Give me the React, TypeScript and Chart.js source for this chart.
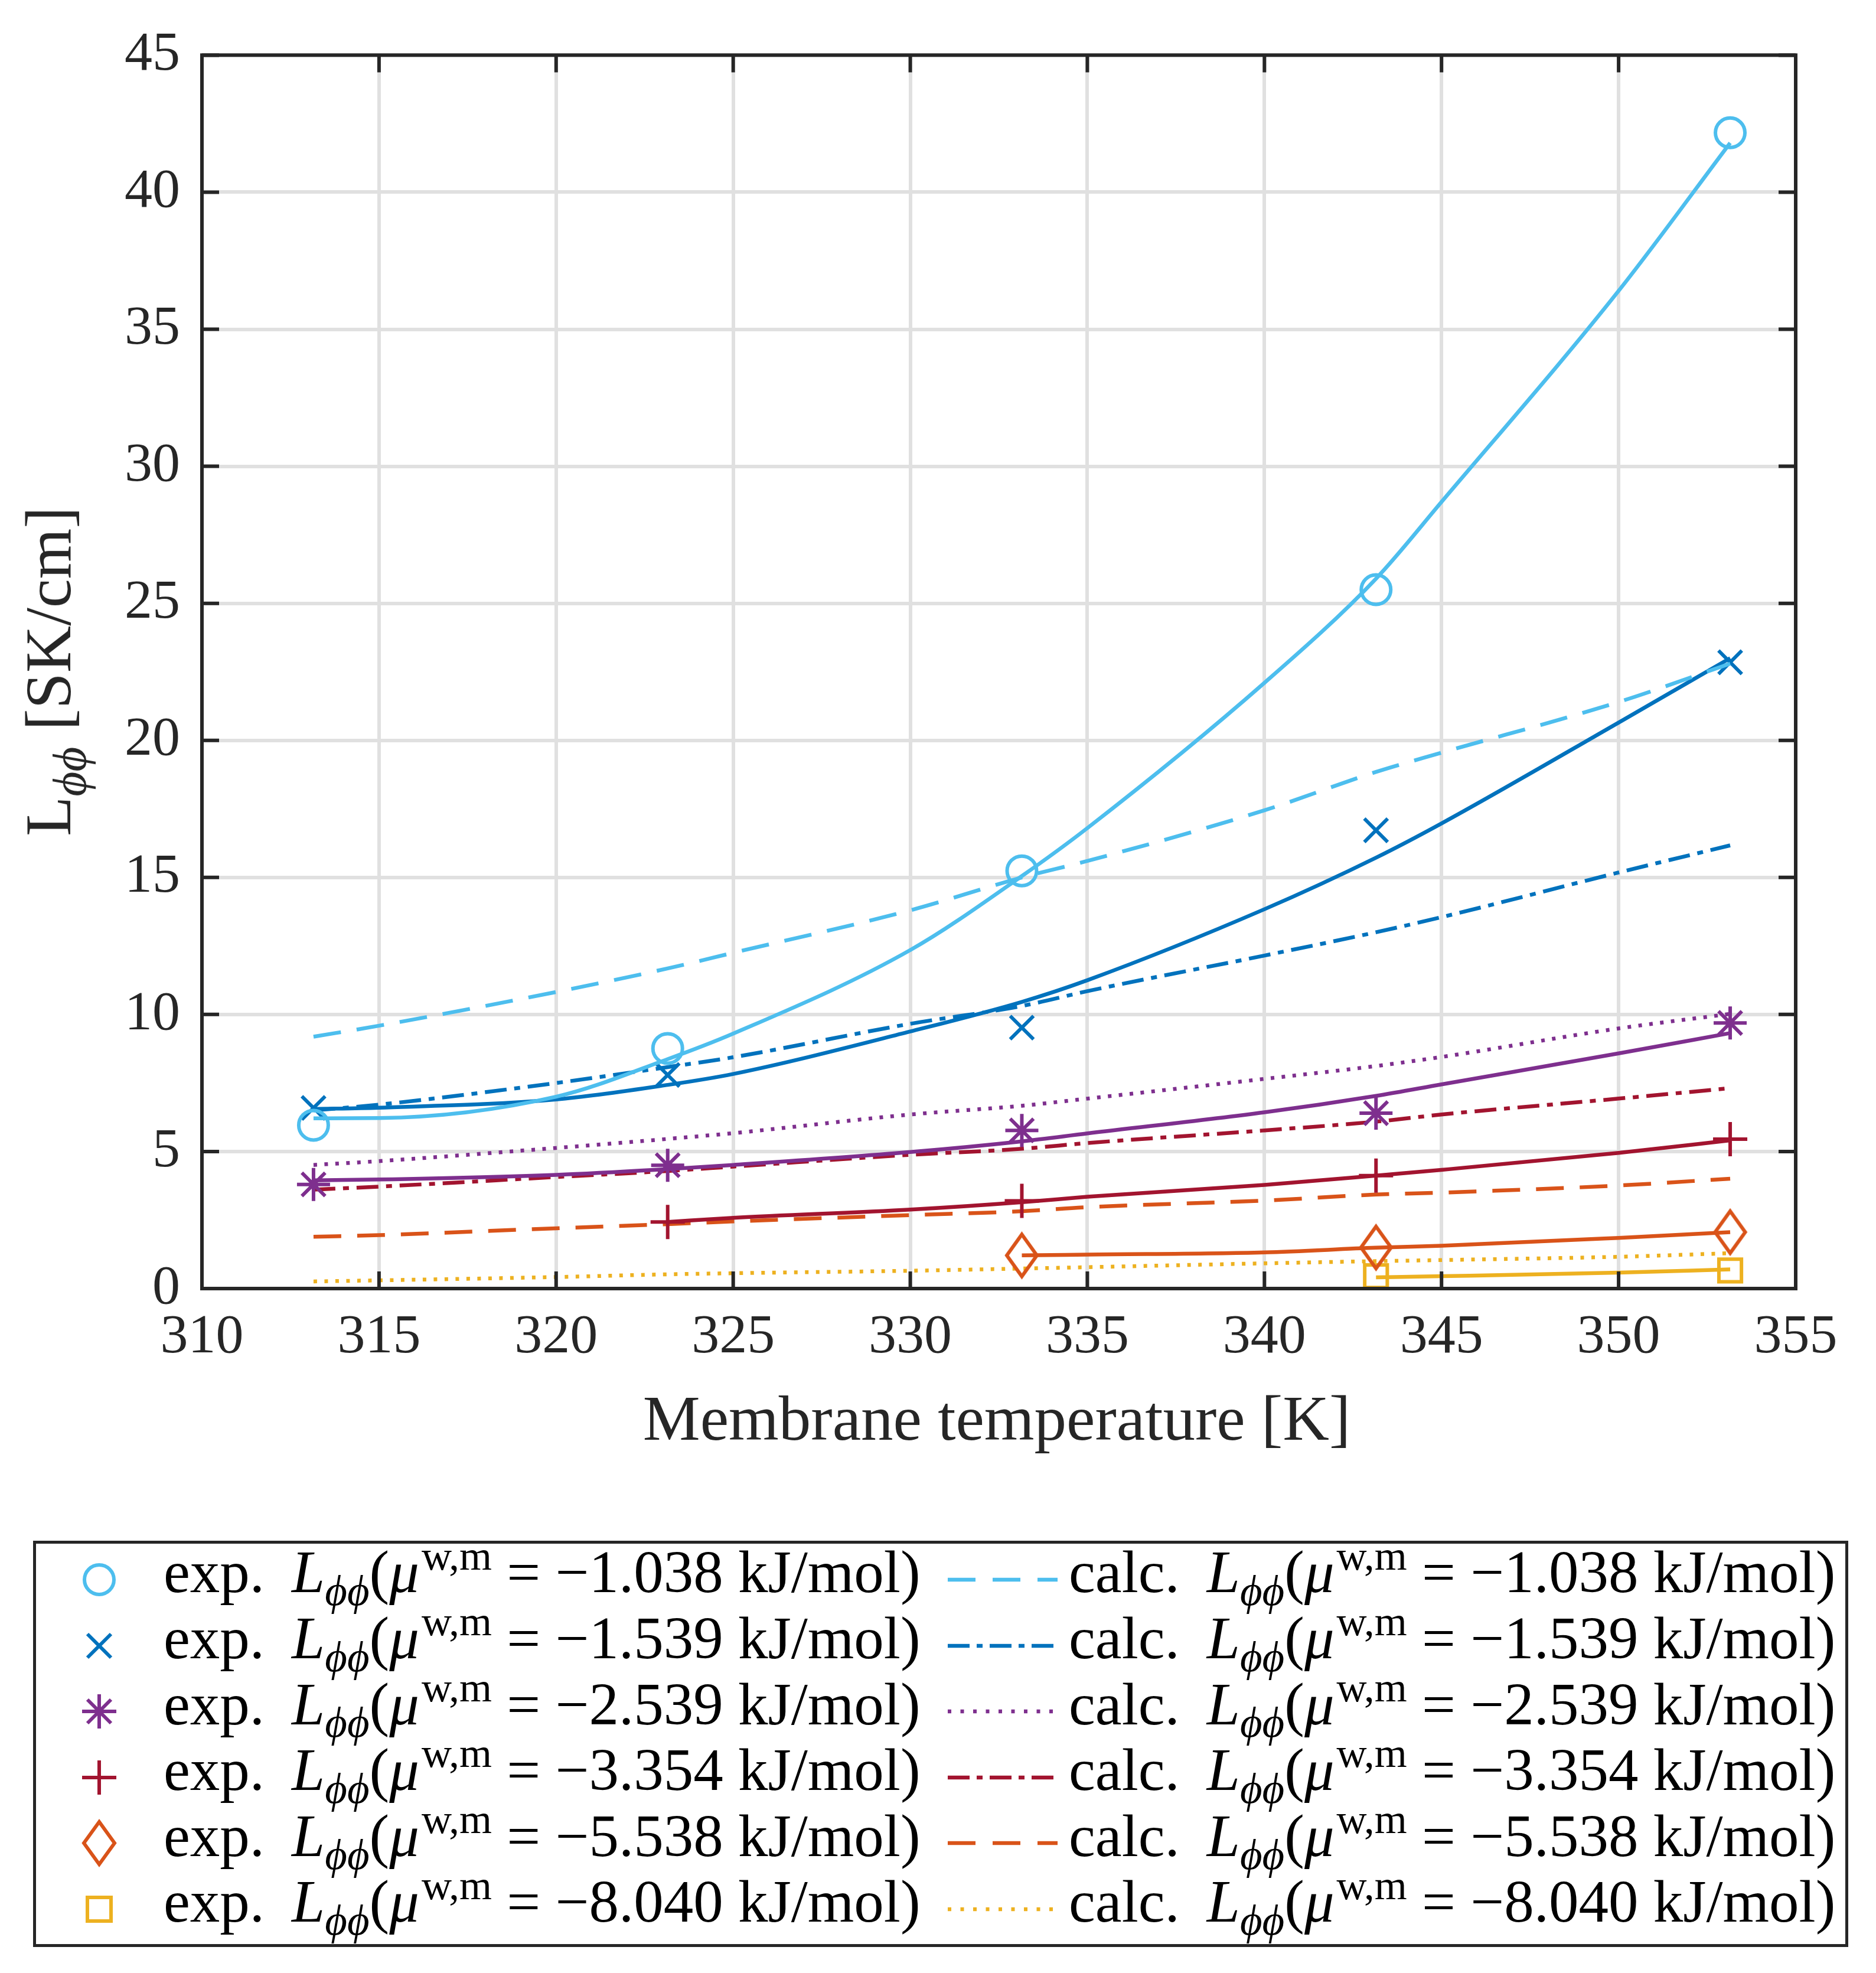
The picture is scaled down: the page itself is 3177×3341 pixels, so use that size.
import { useEffect, useRef } from 'react';
import { Chart, registerables } from 'chart.js';

Chart.register(...registerables);

// temperatures (K)
const tExp = [313.15, 323.15, 333.15, 343.15, 353.15];
const tCurve = [313.15, 315, 320, 323.15, 325, 330, 333.15, 335, 340, 343.15, 345, 350, 353.15];

// chemical potentials of the six membranes (kJ/mol, shown negative)
const muValues = ['1.038', '1.539', '2.539', '3.354', '5.538', '8.040'];

// measured L_phiphi [SK/cm] at tExp
const exp1 = [5.96, 8.76, 15.24, 25.5, 42.17];
const exp2 = [6.59, 7.79, 9.52, 16.72, 22.85];
const exp3 = [3.8, 4.5, 5.77, 6.4, 9.69];
const exp4 = [null, 2.43, 3.2, 4.12, 5.45];
const exp5 = [null, null, 1.21, 1.5, 2.06];
const exp6 = [null, null, null, 0.45, 0.66];

// fitted curves through the measurements, read at tCurve
const fit1 = [6.21, 6.22, 7.0, 8.37, 9.3, 12.35, 15.05, 16.8, 22.1, 25.9, 28.7, 36.4, 41.8];
const fit2 = [6.55, 6.6, 6.9, 7.43, 7.83, 9.38, 10.46, 11.25, 13.84, 15.72, 16.97, 20.65, 23.0];
const fit3 = [3.95, 3.98, 4.15, 4.36, 4.51, 4.98, 5.37, 5.66, 6.43, 7.03, 7.45, 8.58, 9.32];
const fit4 = [null, null, null, 2.43, 2.58, 2.88, 3.15, 3.35, 3.78, 4.12, 4.33, 4.95, 5.41];
const fit5 = [null, null, null, null, null, null, 1.21, 1.24, 1.32, 1.49, 1.56, 1.85, 2.06];
const fit6 = [null, null, null, null, null, null, null, null, null, 0.41, 0.45, 0.58, 0.7];

// calculated L_phiphi, read at tCurve
const calc1 = [9.19, 9.59, 10.82, 11.68, 12.25, 13.8, 15.0, 15.6, 17.45, 18.85, 19.55, 21.4, 22.8];
const calc2 = [6.5, 6.71, 7.5, 8.08, 8.44, 9.66, 10.31, 10.85, 12.15, 13.0, 13.55, 15.18, 16.17];
const calc3 = [4.51, 4.65, 5.13, 5.46, 5.67, 6.35, 6.67, 6.93, 7.65, 8.12, 8.45, 9.49, 10.02];
const calc4 = [3.61, 3.72, 4.07, 4.29, 4.45, 4.88, 5.1, 5.31, 5.77, 6.09, 6.35, 6.93, 7.31];
const calc5 = [1.89, 1.95, 2.2, 2.35, 2.45, 2.68, 2.82, 2.97, 3.21, 3.43, 3.5, 3.76, 4.01];
const calc6 = [0.26, 0.3, 0.42, 0.52, 0.56, 0.65, 0.73, 0.78, 0.92, 1.0, 1.04, 1.16, 1.29];

const expSeries = [exp1, exp2, exp3, exp4, exp5, exp6];
const fitSeries = [fit1, fit2, fit3, fit4, fit5, fit6];
const calcSeries = [calc1, calc2, calc3, calc4, calc5, calc6];

// styling
const COLORS = ['#4DBEEE', '#0072BD', '#7E2F8E', '#A2142F', '#D95319', '#EDB120'];
const MARKERS = ['circle', 'x', 'asterisk', 'plus', 'diamond', 'square'];
const CALC_STYLE = ['dashed', 'dashdot', 'dotted', 'dashdot', 'dashed', 'dotted'];
const PLOT_DASH: Record<string, number[]> = {
  dashed: [47, 27],
  dashdot: [37, 13, 10, 13],
  dotted: [6, 12.5],
};
const LEGEND_DASH: Record<string, string> = {
  dashed: '47 29',
  dashdot: '37 12 10 12',
  dotted: '6 15.5',
};
const FONT = "'Liberation Serif', 'DejaVu Serif', serif";
const AXIS_COLOR = '#262626';
const GRID_COLOR = '#e0e0e0';
const LW = 6.5;
const MW = 6;

function points(xs: number[], ys: (number | null)[]) {
  return xs
    .map((x, i) => ({ x, y: ys[i] }))
    .filter((p) => p.y !== null) as { x: number; y: number }[];
}

function diamondCanvas(color: string) {
  const w = 51;
  const h = 71;
  const c = document.createElement('canvas');
  c.width = w + 12;
  c.height = h + 12;
  const ctx = c.getContext('2d')!;
  ctx.strokeStyle = color;
  ctx.lineWidth = MW;
  const cx = c.width / 2;
  const cy = c.height / 2;
  ctx.beginPath();
  ctx.moveTo(cx, cy - h / 2);
  ctx.lineTo(cx + w / 2, cy);
  ctx.lineTo(cx, cy + h / 2);
  ctx.lineTo(cx - w / 2, cy);
  ctx.closePath();
  ctx.stroke();
  return c;
}

function markerStyle(kind: string, color: string) {
  switch (kind) {
    case 'circle':
      return { pointStyle: 'circle', radius: 25 };
    case 'x':
      return { pointStyle: 'crossRot', radius: 28 };
    case 'asterisk':
      return { pointStyle: 'star', radius: 28 };
    case 'plus':
      return { pointStyle: 'cross', radius: 29 };
    case 'diamond':
      return { pointStyle: diamondCanvas(color), radius: 30 };
    default:
      return { pointStyle: 'rect', radius: 27 };
  }
}

// box around the axes with inward ticks on all four sides
const framePlugin = {
  id: 'matlabFrame',
  afterDraw(chart: any) {
    const { ctx, chartArea: a, scales } = chart;
    const len = 29;
    ctx.save();
    ctx.strokeStyle = AXIS_COLOR;
    ctx.lineWidth = 6;
    ctx.beginPath();
    scales.x.ticks.forEach((t: any) => {
      const px = scales.x.getPixelForValue(t.value);
      ctx.moveTo(px, a.bottom);
      ctx.lineTo(px, a.bottom - len);
      ctx.moveTo(px, a.top);
      ctx.lineTo(px, a.top + len);
    });
    scales.y.ticks.forEach((t: any) => {
      const py = scales.y.getPixelForValue(t.value);
      ctx.moveTo(a.left, py);
      ctx.lineTo(a.left + len, py);
      ctx.moveTo(a.right, py);
      ctx.lineTo(a.right - len, py);
    });
    ctx.stroke();
    ctx.strokeRect(a.left, a.top, a.right - a.left, a.bottom - a.top);
    ctx.restore();
  },
};

function LegendMarker({ kind, color }: { kind: string; color: string }) {
  const common = { stroke: color, strokeWidth: MW, fill: 'none' };
  let shape;
  if (kind === 'circle') shape = <circle cx={40} cy={45} r={25} {...common} />;
  else if (kind === 'x') shape = <path d="M20 25 L60 65 M20 65 L60 25" {...common} />;
  else if (kind === 'asterisk')
    shape = <path d="M40 16 L40 74 M11 45 L69 45 M20 25 L60 65 M20 65 L60 25" {...common} />;
  else if (kind === 'plus') shape = <path d="M40 16 L40 74 M11 45 L69 45" {...common} />;
  else if (kind === 'diamond') shape = <path d="M40 9 L66 45 L40 81 L14 45 Z" {...common} />;
  else shape = <rect x={20} y={25} width={40} height={40} {...common} />;
  return (
    <svg width={80} height={90} style={{ position: 'absolute', left: -40, top: -45 }}>
      {shape}
    </svg>
  );
}

function LegendText({ prefix, mu }: { prefix: string; mu: string }) {
  return (
    <span>
      {prefix}
      <span style={{ display: 'inline-block', width: 46 }} />
      <i>L</i>
      <span style={{ fontStyle: 'italic', fontSize: '0.72em', position: 'relative', top: '0.3em', lineHeight: 0 }}>
        ϕϕ
      </span>
      (<i>μ</i>
      <span style={{ fontSize: '0.7em', position: 'relative', top: '-0.55em', lineHeight: 0, marginLeft: 4 }}>w,m</span>
      {' = −' + mu + ' kJ/mol)'}
    </span>
  );
}

export default function App() {
  const canvasRef = useRef<HTMLCanvasElement>(null);

  useEffect(() => {
    if (!canvasRef.current) return;

    const datasets: any[] = [];
    COLORS.forEach((color, i) => {
      const m = markerStyle(MARKERS[i], color);
      datasets.push({
        label: 'exp. ' + muValues[i],
        data: points(tExp, expSeries[i]),
        showLine: false,
        pointStyle: m.pointStyle,
        pointRadius: m.radius,
        pointBorderWidth: MW,
        pointBorderColor: color,
        pointBackgroundColor: 'rgba(0,0,0,0)',
      });
      datasets.push({
        label: 'fit ' + muValues[i],
        data: points(tCurve, fitSeries[i]),
        showLine: true,
        borderColor: color,
        borderWidth: LW,
        pointRadius: 0,
        cubicInterpolationMode: 'monotone',
      });
      datasets.push({
        label: 'calc. ' + muValues[i],
        data: points(tCurve, calcSeries[i]),
        showLine: true,
        borderColor: color,
        borderWidth: LW,
        borderDash: PLOT_DASH[CALC_STYLE[i]],
        pointRadius: 0,
        cubicInterpolationMode: 'monotone',
      });
    });

    const chart = new Chart(canvasRef.current, {
      type: 'scatter',
      data: { datasets },
      plugins: [framePlugin],
      options: {
        animation: false,
        responsive: false,
        devicePixelRatio: 1,
        events: [],
        layout: { padding: { left: 0, right: 136, top: 90, bottom: 0 } },
        plugins: { legend: { display: false }, tooltip: { enabled: false } },
        scales: {
          x: {
            type: 'linear',
            min: 310,
            max: 355,
            afterFit: (scale: any) => {
              scale.height = 218;
            },
            ticks: {
              stepSize: 5,
              autoSkip: false,
              padding: 27,
              color: AXIS_COLOR,
              font: { family: FONT, size: 94 },
            },
            grid: { color: GRID_COLOR, lineWidth: 6, drawTicks: false },
            border: { display: false },
          },
          y: {
            type: 'linear',
            min: 0,
            max: 45,
            afterFit: (scale: any) => {
              scale.width = 342;
            },
            ticks: {
              stepSize: 5,
              autoSkip: false,
              padding: 37,
              color: AXIS_COLOR,
              font: { family: FONT, size: 94 },
            },
            grid: { color: GRID_COLOR, lineWidth: 6, drawTicks: false },
            border: { display: false },
          },
        },
      },
    });

    return () => chart.destroy();
  }, []);

  const legendLeft = 56;
  const legendTop = 2609;
  const rowPitch = 111.6;
  const legendFont = 101;

  return (
    <div
      style={{
        position: 'absolute',
        left: 0,
        top: 0,
        width: 3177,
        height: 3341,
        background: '#fff',
        fontFamily: FONT,
        overflow: 'hidden',
      }}
    >
      <canvas
        ref={canvasRef}
        width={3177}
        height={2400}
        style={{ position: 'absolute', left: 0, top: 0, width: 3177, height: 2400 }}
      />

      {/* y axis title */}
      <div
        style={{
          position: 'absolute',
          left: 82,
          top: 1137,
          transform: 'translate(-50%, -50%) rotate(-90deg)',
          fontSize: 110,
          lineHeight: '110px',
          whiteSpace: 'nowrap',
          color: AXIS_COLOR,
        }}
      >
        L
        <span style={{ fontStyle: 'italic', fontSize: '0.74em', position: 'relative', top: '0.32em', lineHeight: 0 }}>
          ϕϕ
        </span>{' '}
        [SK/cm]
      </div>

      {/* x axis title */}
      <div
        style={{
          position: 'absolute',
          left: 1688,
          top: 2438 - 0.8375 * 109,
          transform: 'translateX(-50%)',
          fontSize: 109,
          lineHeight: '109px',
          whiteSpace: 'nowrap',
          color: AXIS_COLOR,
        }}
      >
        Membrane temperature [K]
      </div>

      {/* legend */}
      <div style={{ position: 'absolute', left: legendLeft, top: legendTop, width: 3074, height: 688 }}>
        <div
          style={{
            position: 'absolute',
            inset: 0,
            border: `5px solid ${AXIS_COLOR}`,
            boxSizing: 'border-box',
          }}
        />
        {COLORS.map((color, i) => {
          const cy = 66 + i * rowPitch;
          const baseline = cy + 22;
          const textTop = baseline - 0.8375 * legendFont;
          return (
            <div key={i}>
              <div style={{ position: 'absolute', left: 112, top: cy }}>
                <LegendMarker kind={MARKERS[i]} color={color} />
              </div>
              <div
                style={{
                  position: 'absolute',
                  left: 221,
                  top: textTop,
                  fontSize: legendFont,
                  lineHeight: `${legendFont}px`,
                  whiteSpace: 'nowrap',
                  color: '#000',
                }}
              >
                <LegendText prefix="exp." mu={muValues[i]} />
              </div>
              <svg width={186} height={20} style={{ position: 'absolute', left: 1549, top: cy - 10 }}>
                <line
                  x1={0}
                  y1={10}
                  x2={186}
                  y2={10}
                  stroke={color}
                  strokeWidth={LW}
                  strokeDasharray={LEGEND_DASH[CALC_STYLE[i]]}
                />
              </svg>
              <div
                style={{
                  position: 'absolute',
                  left: 1754,
                  top: textTop,
                  fontSize: legendFont,
                  lineHeight: `${legendFont}px`,
                  whiteSpace: 'nowrap',
                  color: '#000',
                }}
              >
                <LegendText prefix="calc." mu={muValues[i]} />
              </div>
            </div>
          );
        })}
      </div>
    </div>
  );
}
